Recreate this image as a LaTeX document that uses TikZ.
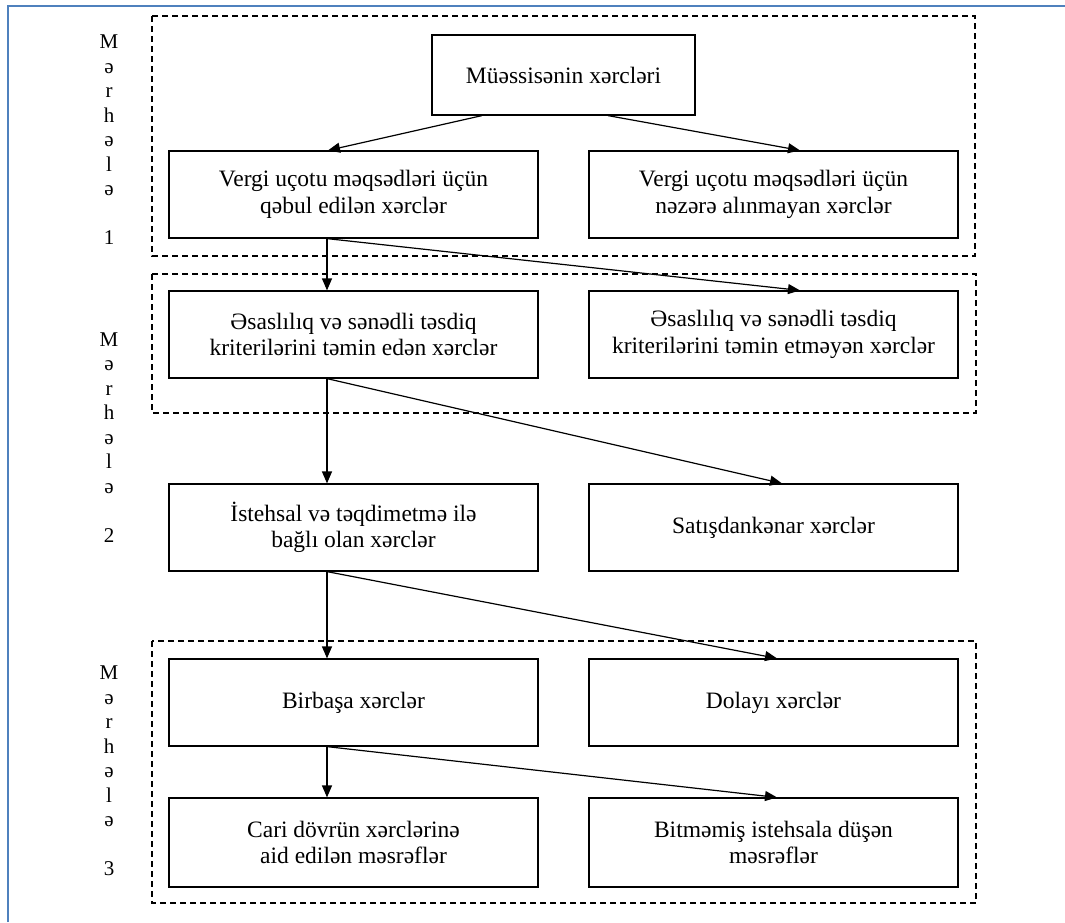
\documentclass[tikz,border=0pt]{standalone}
\usepackage{fontspec}
\setmainfont{Liberation Serif}
\usetikzlibrary{arrows.meta}
\definecolor{frameblue}{RGB}{79,129,189}
\begin{document}
\begin{tikzpicture}[x=1pt,y=-1pt,
  box/.style={draw,line width=1.2pt,minimum width=369pt,minimum height=87pt,inner sep=0pt,align=center,font=\fontsize{23.5}{26.5}\selectfont},
  grp/.style={draw,line width=1.3pt,dash pattern=on 6pt off 4pt},
  arr/.style={line width=1.2pt,-{Triangle[length=12pt,width=10pt]}},
  stage/.style={align=center,inner sep=0pt,font=\fontsize{21}{24.5}\selectfont}]
\useasboundingbox (0,0) rectangle (1065,922);
\draw[frameblue,line width=1.5pt] (8,922) -- (8,6) -- (1065,6);
\draw[grp] (152,16) rectangle (975,256);
\draw[grp] (152,274) rectangle (976,413);
\draw[grp] (152,641) rectangle (976,903);
\node[stage] (s1) at (109,140) {M\\ə\\r\\h\\ə\\l\\ə\\[24.5pt]1};
\node[stage] (s2) at (109,437.5) {M\\ə\\r\\h\\ə\\l\\ə\\[24.5pt]2};
\node[stage] (s3) at (109,771) {M\\ə\\r\\h\\ə\\l\\ə\\[24.5pt]3};
\node[box,minimum width=263pt,minimum height=80pt] (top) at (563.5,75) {Müəssisənin xərcləri};
\node[box] (L1) at (353.5,194.5) {Vergi uçotu məqsədləri üçün\\qəbul edilən xərclər};
\node[box] (R1) at (773.5,194.5) {Vergi uçotu məqsədləri üçün\\nəzərə alınmayan xərclər};
\node[box] (L2) at (353.5,334.5) {Əsaslılıq və sənədli təsdiq\\kriterilərini təmin edən xərclər};
\node[box] (R2) at (773.5,334.5) {Əsaslılıq və sənədli təsdiq\\kriterilərini təmin etməyən xərclər};
\node[box] (L3) at (353.5,527.5) {İstehsal və təqdimetmə ilə\\bağlı olan xərclər};
\node[box] (R3) at (773.5,527.5) {Satışdankənar xərclər};
\node[box] (L4) at (353.5,702.5) {Birbaşa xərclər};
\node[box] (R4) at (773.5,702.5) {Dolayı xərclər};
\node[box,minimum height=89pt] (L5) at (353.5,842.5) {Cari dövrün xərclərinə\\aid edilən məsrəflər};
\node[box,minimum height=89pt] (R5) at (773.5,842.5) {Bitməmiş istehsala düşən\\məsrəflər};
\draw[arr] ([xshift=-81.5pt]top.south) -- ([xshift=-25.5pt]L1.north);
\draw[arr] ([xshift=44.5pt]top.south) -- ([xshift=26.5pt]R1.north);
\draw[arr] ([xshift=-26.5pt]L1.south) -- ([xshift=-26.5pt]L2.north);
\draw[arr] ([xshift=-26.5pt]L1.south) -- ([xshift=26.5pt]R2.north);
\draw[arr] ([xshift=-26.5pt]L2.south) -- ([xshift=-26.5pt]L3.north);
\draw[arr] ([xshift=-26.5pt]L2.south) -- ([xshift=8.5pt]R3.north);
\draw[arr] ([xshift=-26.5pt]L3.south) -- ([xshift=-26.5pt]L4.north);
\draw[arr] ([xshift=-26.5pt]L3.south) -- ([xshift=3.5pt]R4.north);
\draw[arr] ([xshift=-26.5pt]L4.south) -- ([xshift=-26.5pt]L5.north);
\draw[arr] ([xshift=-26.5pt]L4.south) -- ([xshift=3.5pt]R5.north);
\end{tikzpicture}
\end{document}
